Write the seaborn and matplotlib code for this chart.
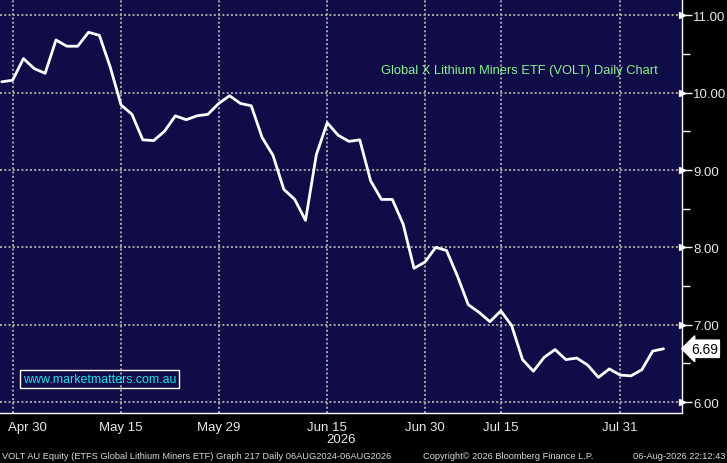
import numpy as np
import pandas as pd
import matplotlib
matplotlib.use("Agg")
import matplotlib.pyplot as plt
import matplotlib.transforms as mtransforms
import seaborn as sns

#### chart data ####
prices = [10.14, 10.16, 10.44, 10.31, 10.25, 10.68, 10.60, 10.60, 10.78, 10.74,
          10.33, 9.84, 9.72, 9.39, 9.38, 9.50, 9.70, 9.65, 9.70, 9.72,
          9.86, 9.96, 9.86, 9.83, 9.42, 9.19, 8.75, 8.62, 8.35, 9.20,
          9.61, 9.45, 9.37, 9.39, 8.86, 8.62, 8.62, 8.30, 7.73, 7.81,
          8.00, 7.96, 7.63, 7.26, 7.16, 7.04, 7.18, 6.99, 6.55, 6.40,
          6.58, 6.68, 6.55, 6.57, 6.48, 6.32, 6.43, 6.35, 6.34, 6.42,
          6.66, 6.69]
major_idx = [1, 11, 20, 30, 39, 46, 57]
major_labels = ["Apr 30", "May 15", "May 29", "Jun 15", "Jun 30", "Jul 15", "Jul 31"]
minor_idx = [6, 16, 26, 35, 42, 51, 62]
y_major = [6, 7, 8, 9, 10, 11]
y_minor = [6.5, 7.5, 8.5, 9.5, 10.5]

title_txt = "Global X Lithium Miners ETF (VOLT) Daily Chart"
footer_left = "VOLT AU Equity (ETFS Global Lithium Miners ETF) Graph 217 Daily 06AUG2024-06AUG2026"
footer_mid = "Copyright\u00a9 2026 Bloomberg Finance L.P."
footer_right = "06-Aug-2026 22:12:43"

df = pd.DataFrame({"day": np.arange(len(prices)), "price": prices})

#### colours ####
navy = "#100c48"
fg = "#e8e8e8"

sns.set_style("dark", {"axes.facecolor": navy, "figure.facecolor": "black"})
plt.rcParams["font.family"] = ["Liberation Sans", "DejaVu Sans"]

fig = plt.figure(figsize=(7.27, 4.64), dpi=100)
ax = fig.add_axes([0, 1 - 414 / 464, 682 / 727, 414 / 464])
ax.set_facecolor(navy)

sns.lineplot(data=df, x="day", y="price", color="white", linewidth=2, ax=ax)

ax.set_xlim(-0.16, 62.7)
ax.set_ylim(5.86, 11.21)

# x axis
ax.set_xticks(major_idx)
ax.set_xticklabels(major_labels)
ax.set_xticks(minor_idx, minor=True)
ax.tick_params(axis="x", which="both", direction="out", length=3, width=1,
               color="white", labelcolor=fg, labelsize=9.5, pad=3)
# first label is pushed inside the figure like in the bloomberg chart
first = ax.get_xticklabels()[0]
first.set_ha("left")
first.set_transform(first.get_transform() + mtransforms.ScaledTranslation(-5 / 100, 0, fig.dpi_scale_trans))

# y axis on the right
ax.yaxis.tick_right()
ax.set_yticks(y_major)
ax.set_yticklabels(["%.2f" % v for v in y_major])
ax.set_yticks(y_minor, minor=True)
ax.tick_params(axis="y", which="major", direction="out", length=7, width=1,
               color="white", labelcolor=fg, labelsize=9.5, pad=1)
ax.tick_params(axis="y", which="minor", direction="out", length=6, width=1,
               color="white")
# arrowheads on major y ticks
trans_r = mtransforms.blended_transform_factory(ax.transAxes, ax.transData)
ax.plot([1.0] * len(y_major), y_major, linestyle="none", marker=">", markersize=5,
        color="white", transform=trans_r, clip_on=False)

ax.set_xlabel("")
ax.set_ylabel("")

for side in ["top", "left"]:
    ax.spines[side].set_visible(False)
for side in ["bottom", "right"]:
    ax.spines[side].set_color("white")
    ax.spines[side].set_linewidth(1)

ax.grid(True, which="major", color="#a8a8a8", linestyle=(0, (1, 1.2)), linewidth=1.4)
ax.set_axisbelow(True)

# title in plot
ax.text(381 / 682, 1 - 71 / 414, title_txt, transform=ax.transAxes, color="#8ef08e",
        fontsize=9.25, va="center", ha="left")

# watermark box
ax.text(23 / 682, 1 - 380 / 414, "www.marketmatters.com.au", transform=ax.transAxes,
        color="#1fe3f0", fontsize=8.9, va="center", ha="left",
        bbox=dict(boxstyle="square,pad=0.22", facecolor="none", edgecolor="white", linewidth=1))

# last value tag
ax.text(1.013, prices[-1], "%.2f" % prices[-1], transform=trans_r, color="black",
        fontsize=10, va="center", ha="left", clip_on=False,
        bbox=dict(boxstyle="larrow,pad=0.12", facecolor="white", edgecolor="white"))

# year under Jun 15
fig.text(341 / 727, 1 - 440 / 464, "2026", color=fg, fontsize=9.5, ha="center", va="center")

# footer
fig.text(2 / 727, 1 - 457 / 464, footer_left, color="#d8d8d8", fontsize=6.7, ha="left", va="center")
fig.text(423 / 727, 1 - 457 / 464, footer_mid, color="#d8d8d8", fontsize=6.7, ha="left", va="center")
fig.text(725 / 727, 1 - 457 / 464, footer_right, color="#d8d8d8", fontsize=6.7, ha="right", va="center")

fig.savefig("out.png", dpi=100, facecolor="black")
